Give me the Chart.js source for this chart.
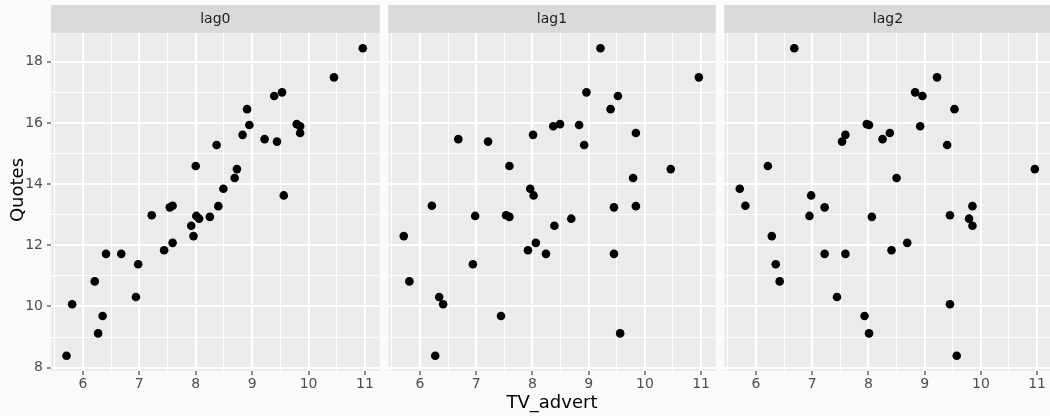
<!DOCTYPE html>
<html>
<head>
<meta charset="utf-8">
<script src="https://cdn.jsdelivr.net/npm/chart.js@4/dist/chart.umd.min.js"></script>
<style>
  html, body { margin: 0; padding: 0; background: #fafafa; overflow: hidden; }
  #fig { position: relative; width: 1050px; height: 416px; overflow: hidden; background: #fafafa; }
  #fig canvas { position: absolute; top: 0; }
</style>
</head>
<body>
<div id="fig">
  <canvas id="p0" width="384" height="416" style="left:0px"></canvas>
  <canvas id="p1" width="336" height="416" style="left:384px"></canvas>
  <canvas id="p2" width="336" height="416" style="left:720px"></canvas>
</div>
<script>
// Quotes (one value per month), paired with TV advertising at lag 0, 1 and 2
const quotes = [18.44, 17.49, 17.00, 16.88, 16.45, 15.96, 15.93, 15.89, 15.67, 15.61,
                15.47, 15.39, 15.28, 14.59, 14.49, 14.20, 13.85, 13.63, 13.29, 13.28,
                13.24, 12.98, 12.96, 12.93, 12.87, 12.64, 12.30, 12.08, 11.84, 11.72,
                11.72, 11.38, 10.82, 10.31, 10.07, 9.69, 9.12, 8.39];
const tvLag0 = [10.96, 10.45, 9.53, 9.39, 8.91, 9.79, 8.95, 9.85, 9.85, 8.83,
                9.22, 9.44, 8.37, 8.00, 8.73, 8.69, 8.49, 9.56, 7.59, 8.40,
                7.54, 7.22, 8.01, 8.25, 8.06, 7.92, 7.96, 7.59, 7.44, 6.41,
                6.68, 6.98, 6.21, 6.94, 5.81, 6.35, 6.27, 5.71];
const tvLag1 = [9.21, 10.96, 8.96, 9.52, 9.39, 8.49, 8.83, 8.37, 9.84, 8.01,
                6.68, 7.21, 8.92, 7.59, 10.46, 9.79, 7.96, 8.02, 6.21, 9.84,
                9.45, 7.53, 6.98, 7.59, 8.69, 8.39, 5.71, 8.06, 7.92, 9.45,
                8.24, 6.94, 5.81, 6.34, 6.41, 7.44, 9.56, 6.27];
const tvLag2 = [6.68, 9.22, 8.83, 8.96, 9.53, 7.97, 8.01, 8.92, 8.38, 7.59,
                8.25, 7.53, 9.40, 6.21, 10.96, 8.50, 5.71, 6.98, 5.81, 9.85,
                7.22, 9.45, 6.95, 8.06, 9.79, 9.85, 6.28, 8.69, 8.41, 7.22,
                7.59, 6.35, 6.42, 7.44, 9.45, 7.93, 8.01, 9.57];
const panelNames = ['lag0', 'lag1', 'lag2'];
const xTicks = [5.5, 6, 6.5, 7, 7.5, 8, 8.5, 9, 9.5, 10, 10.5, 11];
const yTicks = [8, 9, 10, 11, 12, 13, 14, 15, 16, 17, 18];

const FONT = '"DejaVu Sans", "Liberation Sans", sans-serif';
const STRIP_TOP = 5, PANEL_TOP = 33, PANEL_BOTTOM = 371;

const isMajorX = v => Math.abs(v - Math.round(v)) < 1e-9;
const isMajorY = v => Math.round(v) % 2 === 0;

// facet strip above each panel, plus the panel background
const panelDecor = {
  id: 'panelDecor',
  beforeDraw(chart, args, opts) {
    const { ctx, chartArea: a } = chart;
    ctx.save();
    ctx.fillStyle = '#EBEBEB';
    ctx.fillRect(a.left, a.top, a.right - a.left, a.bottom - a.top);
    ctx.fillStyle = '#D9D9D9';
    ctx.fillRect(a.left, STRIP_TOP, a.right - a.left, a.top - STRIP_TOP);
    ctx.fillStyle = '#1A1A1A';
    ctx.font = '14px ' + FONT;
    ctx.textAlign = 'center';
    ctx.textBaseline = 'middle';
    ctx.fillText(opts.label, (a.left + a.right) / 2, (STRIP_TOP + a.top) / 2);
    ctx.restore();
  },
  afterDraw(chart, args, opts) {
    if (!opts.yTitle) return;
    const ctx = chart.ctx;
    ctx.save();
    ctx.translate(18.5, 190);
    ctx.rotate(-Math.PI / 2);
    ctx.fillStyle = '#000000';
    ctx.font = '18px ' + FONT;
    ctx.textAlign = 'center';
    ctx.textBaseline = 'middle';
    ctx.fillText(opts.yTitle, 0, 0);
    ctx.restore();
  }
};

function makePanel(id, xs, idx) {
  const first = idx === 0;
  const middle = idx === 1;
  const points = xs.map((x, i) => ({ x: x, y: quotes[i] }));
  return new Chart(document.getElementById(id), {
    type: 'scatter',
    data: {
      datasets: [{
        data: points,
        backgroundColor: '#000000',
        borderWidth: 0,
        pointRadius: 4.3,
        pointHoverRadius: 4.3
      }]
    },
    plugins: [panelDecor],
    options: {
      responsive: false,
      animation: false,
      events: [],
      layout: { padding: { left: first ? 0 : 3, right: 3, top: PANEL_TOP, bottom: 0 } },
      plugins: {
        legend: { display: false },
        tooltip: { enabled: false },
        panelDecor: { label: panelNames[idx], yTitle: first ? 'Quotes' : null }
      },
      scales: {
        x: {
          type: 'linear',
          position: 'bottom',
          min: 5.435,
          max: 11.26,
          afterBuildTicks: axis => { axis.ticks = xTicks.map(v => ({ value: v })); },
          afterFit: axis => { axis.height = 416 - PANEL_BOTTOM; },
          border: { display: false },
          grid: {
            color: '#FFFFFF',
            lineWidth: c => (c.tick && isMajorX(c.tick.value)) ? 2 : 1,
            drawTicks: true,
            tickLength: 4,
            tickWidth: 1.1,
            tickColor: c => (c.tick && isMajorX(c.tick.value)) ? '#333333' : 'rgba(0,0,0,0)'
          },
          ticks: {
            autoSkip: false,
            maxRotation: 0,
            padding: 1,
            color: '#4D4D4D',
            font: { family: FONT, size: 14 },
            callback: v => isMajorX(v) ? String(Math.round(v)) : ''
          },
          title: {
            display: middle,
            text: 'TV_advert',
            color: '#000000',
            font: { family: FONT, size: 18 },
            padding: { top: 0, bottom: 1.5 }
          }
        },
        y: {
          type: 'linear',
          position: 'left',
          min: 7.89,
          max: 18.94,
          afterBuildTicks: axis => { axis.ticks = yTicks.map(v => ({ value: v })); },
          afterFit: axis => { axis.width = first ? 51 : 0; },
          border: { display: false },
          grid: {
            color: '#FFFFFF',
            lineWidth: c => (c.tick && isMajorY(c.tick.value)) ? 2 : 1,
            drawTicks: first,
            tickLength: first ? 4 : 0,
            tickWidth: 1.1,
            tickColor: c => (c.tick && isMajorY(c.tick.value)) ? '#333333' : 'rgba(0,0,0,0)'
          },
          ticks: {
            display: first,
            autoSkip: false,
            padding: 4,
            color: '#4D4D4D',
            font: { family: FONT, size: 14 },
            callback: v => isMajorY(v) ? String(Math.round(v)) : ''
          }
        }
      }
    }
  });
}

makePanel('p0', tvLag0, 0);
makePanel('p1', tvLag1, 1);
makePanel('p2', tvLag2, 2);
</script>
</body>
</html>
